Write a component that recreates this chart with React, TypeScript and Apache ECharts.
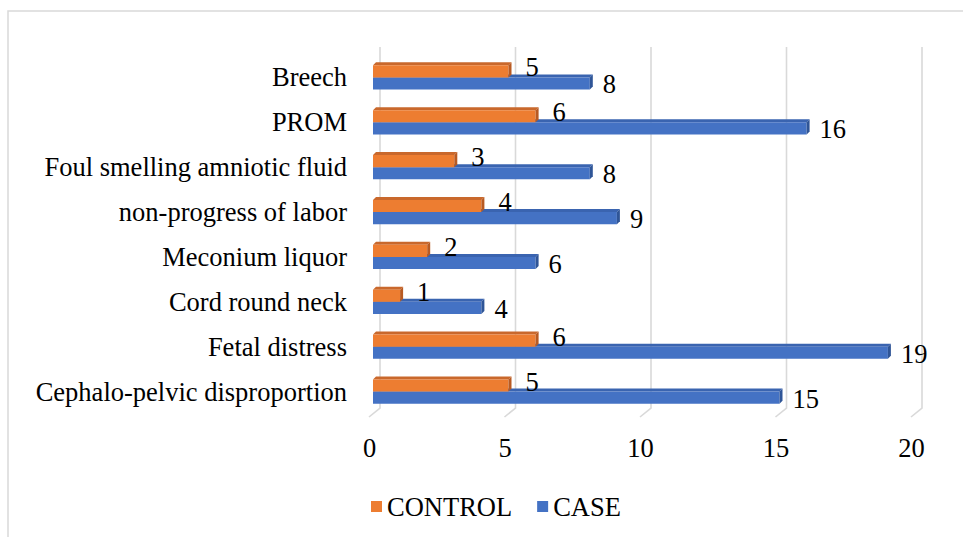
import React, { useEffect, useRef } from "react";
import * as echarts from "echarts";

const categories = [
  "Cephalo-pelvic disproportion",
  "Fetal distress",
  "Cord round neck",
  "Meconium liquor",
  "non-progress of labor",
  "Foul smelling amniotic fluid",
  "PROM",
  "Breech",
];
const caseValues = [15, 19, 4, 6, 9, 8, 16, 8];
const controlValues = [5, 6, 1, 2, 4, 3, 6, 5];
const xTickValues = [0, 5, 10, 15, 20];
const seriesNames = ["CONTROL", "CASE"];

const FONT = "Liberation Serif";
const FS = 26.5;
const ORANGE = { front: "#ED7D31", top: "#C9682C", side: "#B85A22" };
const BLUE = { front: "#4472C4", top: "#3A64B0", side: "#2F5597" };

function makeBarRender(isControl: boolean, colors: { front: string; top: string; side: string }) {
  return (params: any, api: any) => {
    const cat = api.value(0);
    const val = api.value(1);
    const p0 = api.coord([0, cat]);
    const p1 = api.coord([val, cat]);
    const band = api.size([0, 1])[1];
    const h = band * 0.27;
    const d = 3;
    const cy = p0[1];
    const x0 = p0[0];
    const x1 = p1[0];
    const y0 = isControl ? cy - h : cy;
    const y1 = isControl ? cy : cy + h;
    const labelX = x1 + (isControl ? 17 : 13);
    const labelY = isControl ? cy - 10 : cy + 7;
    return {
      type: "group",
      children: [
        {
          type: "polygon",
          shape: { points: [[x0, y0], [x1, y0], [x1 + d, y0 - d], [x0 + d, y0 - d]] },
          style: { fill: colors.top },
        },
        {
          type: "rect",
          shape: { x: x0, y: y0, width: x1 - x0, height: y1 - y0 },
          style: { fill: colors.front },
        },
        {
          type: "polygon",
          shape: { points: [[x1, y0], [x1 + d, y0 - d], [x1 + d, y1 - d], [x1, y1]] },
          style: { fill: colors.side },
        },
        {
          type: "text",
          style: {
            text: String(val),
            x: labelX,
            y: labelY,
            fill: "#000",
            fontSize: FS,
            fontFamily: FONT,
            align: "left",
            verticalAlign: "middle",
          },
        },
      ],
    };
  };
}

export default function App() {
  const ref = useRef<HTMLDivElement>(null);
  useEffect(() => {
    if (!ref.current) return;
    const chart = echarts.init(ref.current, undefined, { renderer: "svg" });
    const controlData = controlValues.map((v, i) => [i, v]);
    const caseData = caseValues.map((v, i) => [i, v]);
    const gridData = xTickValues.map((v) => [v, 0]);
    chart.setOption({
      animation: false,
      backgroundColor: "#fff",
      textStyle: { fontFamily: FONT },
      graphic: [
        {
          type: "rect",
          shape: { x: 8, y: 11, width: 2000, height: 2000 },
          style: { fill: "none", stroke: "#d9d9d9", lineWidth: 1.5 },
          silent: true,
          z: -10,
        },
      ],
      grid: {
        left: 373,
        right: 48,
        top: 55,
        bottom: 123,
        containLabel: false,
        outerBoundsMode: "none",
      },
      legend: {
        data: [
          { name: seriesNames[0], icon: "rect", itemStyle: { color: ORANGE.front } },
          { name: seriesNames[1], icon: "rect", itemStyle: { color: BLUE.front } },
        ],
        left: 366,
        top: 488,
        itemWidth: 11,
        itemHeight: 11,
        itemGap: 25,
        textStyle: { fontSize: FS, fontFamily: FONT, color: "#000" },
      },
      xAxis: {
        type: "value",
        min: 0,
        max: 20,
        interval: 5,
        axisLine: { show: false },
        axisTick: { show: false },
        splitLine: { show: false },
        axisLabel: {
          fontSize: FS,
          fontFamily: FONT,
          color: "#000",
          margin: 20,
          padding: [0, 7, 0, 0],
        },
      },
      yAxis: {
        type: "category",
        data: categories,
        axisLine: { show: false },
        axisTick: { show: false },
        splitLine: { show: false },
        axisLabel: { fontSize: FS, fontFamily: FONT, color: "#000", margin: 26 },
      },
      series: [
        {
          type: "custom",
          name: "grid3d",
          coordinateSystem: "cartesian2d",
          data: gridData,
          encode: { x: 0, y: 1 },
          silent: true,
          z: 0,
          renderItem: (params: any, api: any) => {
            const x = api.coord([api.value(0), 0])[0];
            const cs = params.coordSys;
            const bottom = cs.y + cs.height;
            return {
              type: "polyline",
              shape: {
                points: [
                  [x + 7, cs.y - 8],
                  [x + 7, bottom - 6],
                  [x - 4, bottom + 3],
                ],
              },
              style: { stroke: "#d9d9d9", lineWidth: 1.6, fill: "none" },
            };
          },
        },
        {
          type: "custom",
          name: seriesNames[0],
          coordinateSystem: "cartesian2d",
          data: controlData,
          encode: { x: 1, y: 0 },
          itemStyle: { color: ORANGE.front },
          z: 3,
          renderItem: makeBarRender(true, ORANGE),
        },
        {
          type: "custom",
          name: seriesNames[1],
          coordinateSystem: "cartesian2d",
          data: caseData,
          encode: { x: 1, y: 0 },
          itemStyle: { color: BLUE.front },
          z: 2,
          renderItem: makeBarRender(false, BLUE),
        },
      ],
    });
    return () => chart.dispose();
  }, []);
  return (
    <div
      ref={ref}
      style={{ position: "fixed", left: 0, top: 0, width: 963, height: 537, background: "#fff" }}
    />
  );
}
